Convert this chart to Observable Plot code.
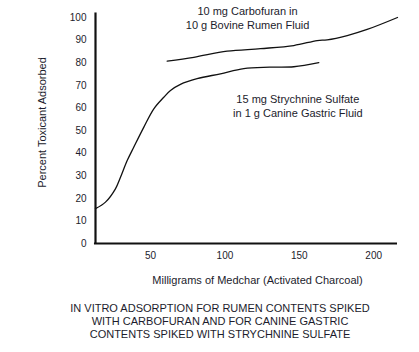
<!DOCTYPE html>
<html><head><meta charset="utf-8">
<script src="https://cdn.jsdelivr.net/npm/d3@7"></script>
<script src="https://cdn.jsdelivr.net/npm/@observablehq/plot@0.6"></script>
<style>
body{margin:0;background:#fff;font-family:"Liberation Sans",Arial,sans-serif;}
#cap{width:419px;box-sizing:border-box;padding-left:21px;padding-top:12px;text-align:center;font-size:11px;line-height:13px;color:#1c1c2c;font-family:"Liberation Sans",Arial,sans-serif;}
svg text{font-family:"Liberation Sans",Arial,sans-serif;}
</style></head><body>
<div id="chart"></div>
<div id="cap">IN VITRO ADSORPTION FOR RUMEN CONTENTS SPIKED<br>WITH CARBOFURAN AND FOR CANINE GASTRIC<br>CONTENTS SPIKED WITH STRYCHNINE SULFATE</div>
<script>
const strychX = [13, 19.7, 26.4, 29.8, 34.3, 38.7, 45.5, 52.2, 58.9, 63.4, 70.1, 81.3, 97, 112.7, 130, 146.3, 163.1];
const strychY = [15.4, 18.3, 24.2, 29.3, 36.7, 42.6, 51.5, 59.6, 64.7, 67.7, 70.4, 72.9, 75.1, 77.4, 78, 78.2, 80];
const carboX = [61.2, 79.1, 101.5, 123.9, 146.3, 162, 168.7, 182.2, 195.6, 216];
const carboY = [80.7, 82.4, 85.1, 86.2, 87.6, 89.8, 90.1, 92, 94.7, 100];
const xTicks = [50, 100, 150, 200];
const yTicks = [0, 10, 20, 30, 40, 50, 60, 70, 80, 90, 100];
const labels = [
  {x: 115.2, y: 100, text: "10 mg Carbofuran in\n10 g Bovine Rumen Fluid"},
  {x: 149, y: 60.9, text: "15 mg Strychnine Sulfate\nin 1 g Canine Gastric Fluid"}
];
const strych = strychX.map((x, i) => ({x, y: strychY[i]}));
const carbo = carboX.map((x, i) => ({x, y: carboY[i]}));
const ink = "#1c1c2c";
const chart = Plot.plot({
  width: 419, height: 290,
  marginLeft: 95, marginRight: 22, marginTop: 17, marginBottom: 47,
  style: {fontFamily: "Liberation Sans, Arial, sans-serif", fontSize: "10px", color: ink, background: "#fff"},
  x: {domain: [13, 216]},
  y: {domain: [0, 100]},
  marks: [
    Plot.axisY(yTicks, {tickSize: 0, tickPadding: 9, fontSize: 10, label: null}),
    Plot.axisX(xTicks, {tickSize: 0, tickPadding: 8, label: null, fontSize: 10}),
    Plot.text(["Percent Toxicant Adsorbed"], {frameAnchor: "left", textAnchor: "middle", rotate: -90, dx: -53, dy: -8, fontSize: 11, fill: ink}),
    Plot.text(["Milligrams of Medchar (Activated Charcoal)"], {frameAnchor: "bottom", dx: 11, dy: 40, fontSize: 11, fill: ink}),
    Plot.ruleX([13], {y1: 0, y2: 102, stroke: "#111", strokeWidth: 2.2}),
    Plot.ruleY([0], {x1: 12.3, x2: 216, stroke: "#111", strokeWidth: 2.2}),
    Plot.line(strych, {x: "x", y: "y", curve: "catmull-rom", stroke: "#111", strokeWidth: 1.3}),
    Plot.line(carbo, {x: "x", y: "y", curve: "catmull-rom", stroke: "#111", strokeWidth: 1.3}),
    Plot.text(labels, {x: "x", y: "y", text: "text", lineAnchor: "middle", lineHeight: 1.25, fontSize: 11, fill: ink})
  ]
});
document.getElementById("chart").appendChild(chart);
</script>
</body></html>
